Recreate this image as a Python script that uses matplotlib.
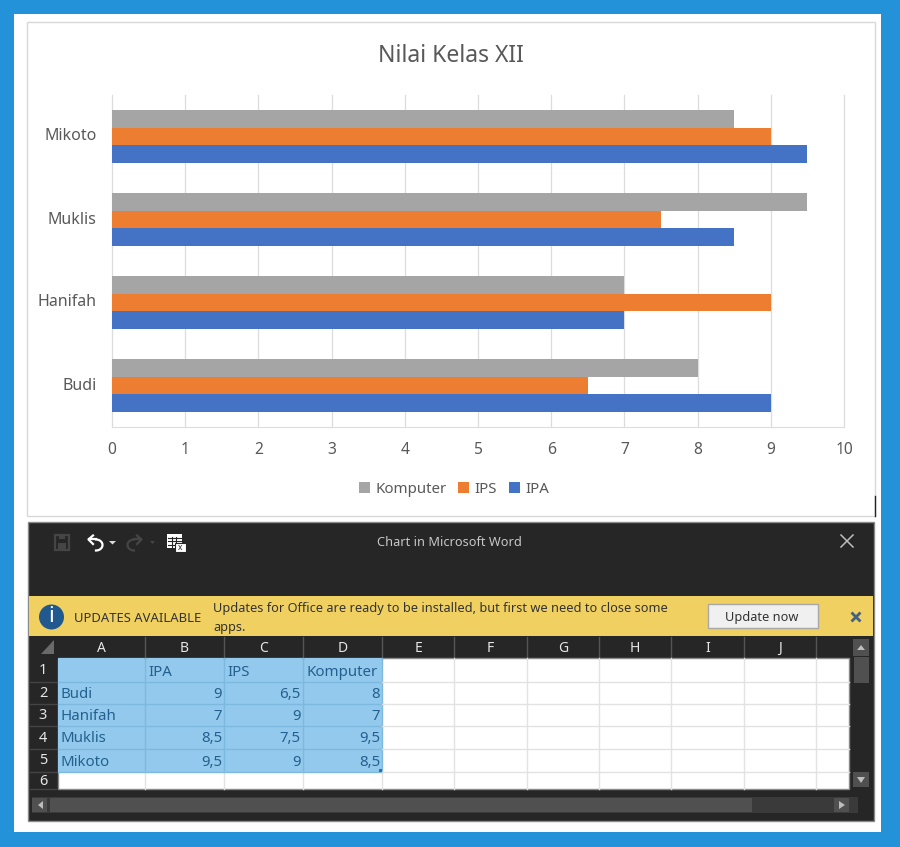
import matplotlib
matplotlib.use('Agg')
import numpy as np
from matplotlib import pyplot as plt
from matplotlib.patches import Rectangle, Circle, Polygon

plt.rcParams['font.family'] = ['Noto Sans', 'DejaVu Sans']

names = ['Budi', 'Hanifah', 'Muklis', 'Mikoto']
ipa = [9, 7, 8.5, 9.5]
ips = [6.5, 9, 7.5, 9]
komputer = [8, 7, 9.5, 8.5]
xticks = [0, 1, 2, 3, 4, 5, 6, 7, 8, 9, 10]
col_letters = ['A', 'B', 'C', 'D', 'E', 'F', 'G', 'H', 'I', 'J']

W, H = 900, 847
fig = plt.figure(figsize=(W / 100, H / 100), dpi=100, facecolor='#2492d8')

# whole figure in pixels, for the window around the chart
bg = fig.add_axes([0, 0, 1, 1])
bg.set_xlim(0, W)
bg.set_ylim(H, 0)
bg.axis('off')


def box(x0, y0, x1, y1, color, ec='none', lw=0, z=1):
    bg.add_patch(Rectangle((x0, y0), x1 - x0, y1 - y0, fc=color, ec=ec, lw=lw, zorder=z))


box(14, 14, 881, 832, 'white')
box(27, 22, 875, 516, 'white', ec='#d9d9d9', lw=1)
bg.plot([875, 875], [496, 516], color='#222222', lw=1, zorder=2)

# the chart
ax = fig.add_axes([112 / W, 1 - 427 / H, (844 - 112) / W, (427 - 95) / H])
ax.patch.set_alpha(0)
y = np.arange(len(names))
h = 0.21
ax.barh(y - h, ipa, h, color='#4472c4', label='IPA', zorder=3)
ax.barh(y, ips, h, color='#ed7d31', label='IPS', zorder=3)
ax.barh(y + h, komputer, h, color='#a5a5a5', label='Komputer', zorder=3)
ax.set_xlim(0, 10)
ax.set_ylim(-0.5, 3.5)
ax.set_yticks(y)
ax.set_yticklabels(names, fontsize=11.5, color='#595959', va='center')
ax.set_xticks(xticks)
ax.tick_params(axis='x', labelsize=11.2, labelcolor='#595959', length=0, pad=11)
ax.tick_params(axis='y', length=0, pad=11)
ax.grid(axis='x', color='#dcdcdc', lw=0.9, zorder=0, clip_on=False)
for s in ['top', 'right', 'left']:
    ax.spines[s].set_visible(False)
ax.spines['bottom'].set_color('#dcdcdc')
handles, labels = ax.get_legend_handles_labels()
ax.legend(handles[::-1], labels[::-1], loc='center', bbox_to_anchor=(454 / W, 1 - 489 / H),
          bbox_transform=fig.transFigure, ncol=3, frameon=False, fontsize=10.8, labelcolor='#595959',
          handlelength=0.72, handleheight=0.72, handletextpad=0.35, columnspacing=0.8)
bg.text(450.5, 56, 'Nilai Kelas XII', fontsize=16.5, color='#595959', ha='center', va='center')

# excel window
box(28, 522, 874, 821, '#262626', ec='#8a8a8a', lw=1)
bg.text(449.5, 542, 'Chart in Microsoft Word', fontsize=9.2, color='#c8c8c8', ha='center', va='center')
bg.plot([841, 853], [535, 547], color='#bdbdbd', lw=1.1, zorder=3)
bg.plot([841, 853], [547, 535], color='#bdbdbd', lw=1.1, zorder=3)

# toolbar icons
box(55, 535.5, 69, 550, 'none', ec='#454545', lw=1.6, z=3)
box(58, 543, 66, 550, '#454545', z=3)
box(59, 535, 65, 539, '#454545', z=3)
t = np.linspace(-np.pi / 2, np.pi / 2, 30)
bg.plot(96 + 6.5 * np.cos(t), 545 + 5.5 * np.sin(t), color='white', lw=1.6, zorder=3)
bg.plot([89, 96], [539.5, 539.5], color='white', lw=1.6, zorder=3)
bg.plot([93, 88.5, 93], [535.5, 539.5, 544], color='white', lw=1.6, zorder=3)
bg.add_patch(Polygon([[109, 541], [116, 541], [112.5, 544.5]], fc='#dddddd', zorder=3))
bg.plot(134 - 6.5 * np.cos(t), 545 + 5.5 * np.sin(t), color='#454545', lw=1.6, zorder=3)
bg.plot([134, 141], [539.5, 539.5], color='#454545', lw=1.6, zorder=3)
bg.plot([137, 141.5, 137], [535.5, 539.5, 544], color='#454545', lw=1.6, zorder=3)
bg.add_patch(Polygon([[150, 541], [155, 541], [152.5, 544]], fc='#454545', zorder=3))
box(167, 534, 182, 548, 'white', z=3)
for yy in [538, 541.5, 545]:
    bg.plot([168, 181], [yy, yy], color='#262626', lw=0.8, zorder=4)
for xx in [171.5, 176]:
    bg.plot([xx, xx], [537, 548], color='#262626', lw=0.8, zorder=4)
box(175, 543, 186, 552, 'white', ec='#262626', lw=0.8, z=5)
bg.text(180.5, 547.5, 'x', fontsize=6, color='#262626', ha='center', va='center', zorder=6)

# update bar
box(29, 596, 873, 636, '#f0d060')
bg.add_patch(Circle((51.5, 617), 12.5, fc='#21598f', zorder=3))
bg.text(51.5, 617, 'i', fontsize=16, color='white', weight='bold', ha='center', va='center', zorder=4)
bg.text(74, 618, 'UPDATES AVAILABLE', fontsize=9.4, color='#333333', ha='left', va='center', zorder=3)
bg.text(213, 608.5, 'Updates for Office are ready to be installed, but first we need to close some',
        fontsize=9.2, color='#333333', ha='left', va='center', zorder=3)
bg.text(213, 627, 'apps.', fontsize=9.2, color='#333333', ha='left', va='center', zorder=3)
box(707.5, 604.5, 817.5, 628.5, '#f0f0f0', ec='#a8a8a8', lw=1, z=3)
bg.text(761.5, 618, 'Update now', fontsize=9.2, color='#333333', ha='center', va='center', zorder=4)
bg.plot([852.5, 859.5], [613.5, 620.5], color='#44617f', lw=2, zorder=3)
bg.plot([852.5, 859.5], [620.5, 613.5], color='#44617f', lw=2, zorder=3)

# sheet grid
cols = [58, 145, 224, 303, 382, 454, 527, 599, 671, 744, 816, 849]
rows = [658, 682, 704, 726, 749, 772, 789]
box(58, 658, 849, 789, 'white', ec='#8a8a8a', lw=1, z=2)
box(58, 658, 382, 772, '#93c9ec', z=2.5)
for c in cols[1:-1]:
    bg.plot([c, c], [637, 658], color='#555555', lw=1, zorder=3)
    sel = c <= 382
    bg.plot([c, c], [658, 772], color='#7db8de' if sel else '#e2e2e2', lw=1, zorder=3)
    bg.plot([c, c], [772, 789], color='#e2e2e2', lw=1, zorder=3)
for r in rows[1:-1]:
    bg.plot([58, 382], [r, r], color='#7db8de', lw=1, zorder=3)
    bg.plot([382, 849], [r, r], color='#e2e2e2', lw=1, zorder=3)
bg.add_patch(Polygon([[54, 640], [54, 654], [41, 654]], fc='#6a6a6a', zorder=3))
bg.add_patch(Rectangle((379, 769), 3, 3, fc='#2f6fb5', zorder=5))

for i, letter in enumerate(col_letters):
    bg.text((cols[i] + cols[i + 1]) / 2, 648, letter, fontsize=10, color='#e6e6e6',
            ha='center', va='center', zorder=4)
for i in range(6):
    bg.text(43, (rows[i] + rows[i + 1]) / 2 + (1 if i == 5 else 0.5), str(i + 1), fontsize=10.5, color='#e6e6e6',
            ha='center', va='center', zorder=4)
    bg.plot([30, 56], [rows[i + 1], rows[i + 1]], color='#444444', lw=1, zorder=3)

cell_color = '#24608f'
heads = ['IPA', 'IPS', 'Komputer']
for j, head in enumerate(heads):
    bg.text(cols[j + 1] + 3, 672, head, fontsize=10.8, color=cell_color, ha='left', va='center', zorder=4)
for i, name in enumerate(names):
    ym = (rows[i + 1] + rows[i + 2]) / 2 + 1.5
    bg.text(61, ym, name, fontsize=10.8, color=cell_color, ha='left', va='center', zorder=4)
    for j, vals in enumerate([ipa, ips, komputer]):
        bg.text(cols[j + 2] - 2, ym, str(vals[i]).replace('.', ','), fontsize=10.8, color=cell_color,
                ha='right', va='center', zorder=4)

# scrollbars
box(853, 639, 869, 656, '#505050', z=3)
bg.add_patch(Polygon([[857, 650], [865, 650], [861, 645]], fc='#bdbdbd', zorder=4))
box(854, 657, 869, 683, '#505050', z=3)
box(853, 772, 869, 787, '#505050', z=3)
bg.add_patch(Polygon([[857, 777], [865, 777], [861, 783]], fc='#bdbdbd', zorder=4))
box(32, 797, 858, 813, '#3a3a3a', z=2)
box(32, 798, 47, 812, '#505050', z=3)
bg.add_patch(Polygon([[43, 801], [43, 809], [38, 805]], fc='#bdbdbd', zorder=4))
box(50, 798, 752, 812, '#505050', z=3)
box(834, 798, 849, 812, '#505050', z=3)
bg.add_patch(Polygon([[839, 801], [839, 809], [845, 805]], fc='#bdbdbd', zorder=4))

fig.savefig('out.png', dpi=100, facecolor=fig.get_facecolor())
